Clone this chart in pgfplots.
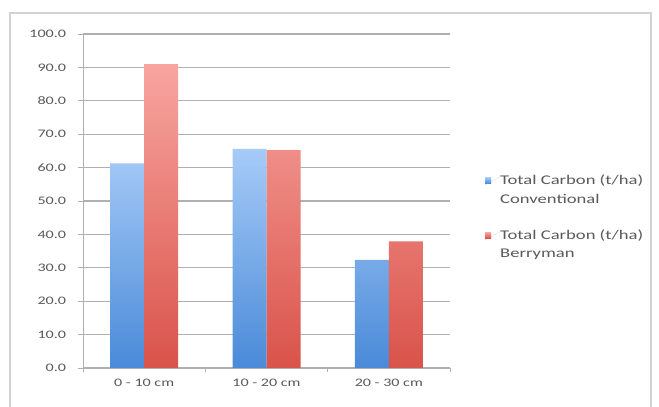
\documentclass[border=0pt]{standalone}
\usepackage{pgfplots}
\pgfplotsset{compat=1.18}
\usepackage{fontspec}
\setmainfont{Carlito}
\newfontfamily\legfont[FakeStretch=1.4]{Carlito}
\definecolor{btop}{HTML}{A6CBF7}
\definecolor{bbot}{HTML}{4A8AD8}
\definecolor{rtop}{HTML}{F8A5A0}
\definecolor{rbot}{HTML}{D9534A}
\definecolor{gridc}{HTML}{B0B0B0}
\definecolor{txt}{HTML}{5A5A5A}
\definecolor{legb}{HTML}{7F95D6}
\definecolor{legr}{HTML}{D8737E}
\begin{document}
\begin{tikzpicture}[x=1pt,y=1pt]
\path[use as bounding box] (0,0) rectangle (659,407);
\fill[white] (0,0) rectangle (659,407);
\draw[gray!35, line width=1.2pt] (10,-5) -- (10,394) -- (651,394) -- (651,-5);
\begin{axis}[
  at={(83pt,39pt)}, anchor=south west,
  scale only axis, width=367pt, height=334pt,
  ymin=0, ymax=100,
  xmin=-0.5, xmax=2.5,
  ytick={0,10,...,100},
  xtick={0,1,2},
  xticklabels={0 - 10 cm, 10 - 20 cm, 20 - 30 cm},
  minor xtick={-0.5,0.5,1.5,2.5},
  axis lines*=left,
  axis line style={gridc, line width=0.9pt},
  ymajorgrids, grid style={gridc, line width=1.1pt},
  major x tick style={draw=none},
  minor x tick style={gridc, line width=0.8pt},
  minor tick length=4pt,
  y tick style={gridc, line width=0.9pt},
  tick align=outside, major tick length=5pt,
  y tick label style={/pgf/number format/fixed, /pgf/number format/fixed zerofill, /pgf/number format/precision=1, xshift=-5pt},
  /pgf/number format/assume math mode=true,
  ticklabel style={font=\fontsize{11.5}{13}\selectfont, text=txt, xscale=1.4},
  x tick label style={yshift=-3pt},
  ybar=0pt, bar width=34pt,
  legend style={at={(402pt,193pt)}, anchor=north west, draw=none, fill=none,
    font=\legfont\fontsize{13.3}{15}\selectfont, text=txt, inner sep=0pt,
    nodes={inner sep=0pt}, cells={anchor=west}, row sep=7.5pt},
  legend cell align=left,
]
\addplot[draw=none, top color=btop, bottom color=bbot,
  legend image code/.code={\path (0pt,-4pt) -- (15pt,4pt);\fill[legb] (0pt,-2.5pt) rectangle (6pt,3.5pt);}] coordinates {(0,61.3) (1,65.6) (2,32.4)};
\addlegendentry{Total Carbon (t/ha)}
\addlegendimage{empty legend}
\addlegendentry{Conventional}
\addlegendimage{empty legend}
\addlegendentry{}
\addlegendimage{empty legend}
\addlegendentry{}
\addplot[draw=none, top color=rtop, bottom color=rbot,
  legend image code/.code={\path (0pt,-4pt) -- (15pt,4pt);\fill[legr] (0pt,-2.5pt) rectangle (6pt,3.5pt);}] coordinates {(0,91.0) (1,65.2) (2,37.9)};
\addlegendentry{Total Carbon (t/ha)}
\addlegendimage{empty legend}
\addlegendentry{Berryman}
\end{axis}
\end{tikzpicture}
\end{document}
